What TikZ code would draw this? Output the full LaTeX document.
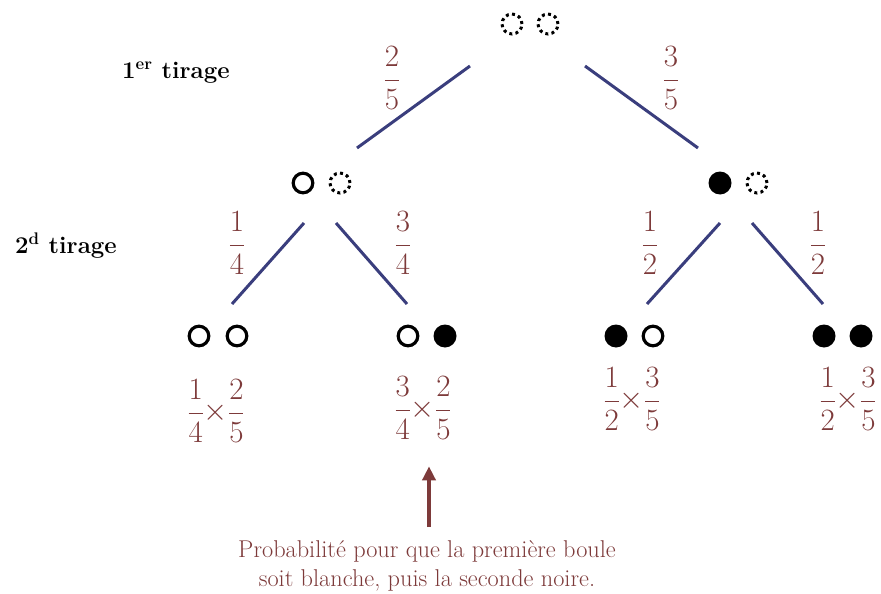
\RequirePackage{fix-cm}
\documentclass[tikz,border=0pt]{standalone}
\usetikzlibrary{arrows.meta}
\definecolor{branch}{RGB}{58,62,125}
\definecolor{prob}{RGB}{125,58,58}
\begin{document}
\begin{tikzpicture}[x=1pt,y=-1pt,
  wball/.style={circle,draw,line width=3.2pt,minimum size=19.6pt,inner sep=0pt},
  bball/.style={circle,fill,minimum size=23pt,inner sep=0pt},
  dball/.style={circle,draw,line width=3pt,dash pattern=on 3pt off 3.3pt,minimum size=20pt,inner sep=0pt},
  edge/.style={draw=branch,line width=3pt},
  frac/.style={text=prob,font=\fontsize{31}{37}\selectfont,inner sep=0pt},
  level/.style={font=\fontsize{24}{29}\selectfont\bfseries,anchor=base west,inner sep=0pt},
  pointer/.style={draw=prob,line width=4.5pt,-{Triangle[width=13pt,length=14pt]}},
  caption/.style={text=prob,font=\fontsize{24.3}{29}\selectfont,align=center,inner sep=0pt}
]
\useasboundingbox (0,0) rectangle (881,594);

% urn contents at each stage
\node[dball] (t1) at (512,24) {};
\node[dball] (t2) at (548,24) {};
\node[wball] (l1) at (303,183) {};
\node[dball] (l2) at (340,183) {};
\node[bball] (r1) at (720,183) {};
\node[dball] (r2) at (757,183) {};
\node[wball] (a1) at (199,336) {};
\node[wball] (a2) at (237,336) {};
\node[wball] (b1) at (408,336) {};
\node[bball] (b2) at (445,336) {};
\node[bball] (c1) at (616,336) {};
\node[wball] (c2) at (653,336) {};
\node[bball] (d1) at (824,336) {};
\node[bball] (d2) at (861,336) {};

% branches
\draw[edge] ([shift={(-42,42)}]t1.center) -- ([shift={(17,-35)}]l2.center);
\draw[edge] ([shift={(37,42)}]t2.center) -- ([shift={(-22,-35)}]r1.center);
\draw[edge] ([shift={(1,40)}]l1.center) -- ([shift={(-5,-32)}]a2.center);
\draw[edge] ([shift={(-4,40)}]l2.center) -- ([shift={(-1,-32)}]b1.center);
\draw[edge] ([shift={(0,40)}]r1.center) -- ([shift={(-6,-32)}]c2.center);
\draw[edge] ([shift={(-5,40)}]r2.center) -- ([shift={(-1,-32)}]d1.center);

% branch probabilities
\node[frac] (f1) at (392,78) {$\displaystyle\frac{2}{5}$};
\node[frac] (f2) at (671,78) {$\displaystyle\frac{3}{5}$};
\node[frac] (f3) at (237,243) {$\displaystyle\frac{1}{4}$};
\node[frac] (f4) at (403,243) {$\displaystyle\frac{3}{4}$};
\node[frac] (f5) at (650,243) {$\displaystyle\frac{1}{2}$};
\node[frac] (f6) at (818,243) {$\displaystyle\frac{1}{2}$};

% path probabilities
\node[frac] (p1) at (216,411) {$\medmuskip=0mu\displaystyle\frac{1}{4}\times\frac{2}{5}$};
\node[frac] (p2) at (423,408) {$\medmuskip=0mu\displaystyle\frac{3}{4}\times\frac{2}{5}$};
\node[frac] (p3) at (632,399) {$\medmuskip=0mu\displaystyle\frac{1}{2}\times\frac{3}{5}$};
\node[frac] (p4) at (848,399) {$\medmuskip=0mu\displaystyle\frac{1}{2}\times\frac{3}{5}$};

% stage labels
\node[level] (s1) at (122,78) {1\textsuperscript{er} tirage};
\node[level] (s2) at (15,253) {2\textsuperscript{d} tirage};

% explanation
\node[caption,anchor=north] (cap) at (427,540) {Probabilité pour que la première boule\\soit blanche, puis la seconde noire.};
\draw[pointer] ([xshift=2pt,yshift=13pt]cap.north) -- ([xshift=6pt,yshift=-27pt]p2.south);
\end{tikzpicture}
\end{document}
